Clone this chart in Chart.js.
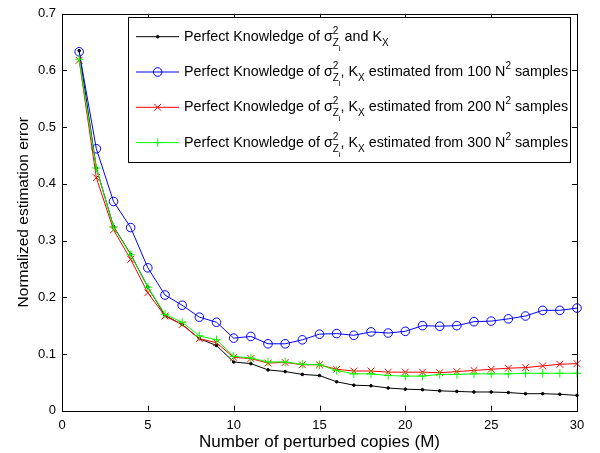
<!DOCTYPE html>
<html>
<head>
<meta charset="utf-8">
<script src="https://cdn.jsdelivr.net/npm/chart.js@4.4.1/dist/chart.umd.min.js"></script>
<style>
  html, body { margin: 0; padding: 0; background: #fff; }
  #wrap { width: 600px; height: 453px; }
</style>
</head>
<body>
<div id="wrap"><canvas id="errChart" width="600" height="453"></canvas></div>
<script>
// number of perturbed copies M
const copies = [1, 2, 3, 4, 5, 6, 7, 8, 9, 10, 11, 12, 13, 14, 15,
  16, 17, 18, 19, 20, 21, 22, 23, 24, 25, 26, 27, 28, 29, 30];

// normalized estimation error, one array per curve
const perfect = [0.635, 0.428, 0.325, 0.276, 0.218, 0.168, 0.152, 0.127, 0.115, 0.086,
  0.083, 0.072, 0.069, 0.064, 0.062, 0.051, 0.045, 0.044, 0.040, 0.038,
  0.037, 0.035, 0.034, 0.033, 0.033, 0.032, 0.030, 0.030, 0.029, 0.027];
const est100 = [0.633, 0.462, 0.369, 0.323, 0.252, 0.204, 0.186, 0.165, 0.156, 0.128,
  0.131, 0.118, 0.118, 0.125, 0.135, 0.136, 0.133, 0.139, 0.137, 0.140,
  0.150, 0.149, 0.150, 0.157, 0.158, 0.162, 0.167, 0.177, 0.177, 0.181];
const est200 = [0.618, 0.411, 0.319, 0.267, 0.208, 0.167, 0.152, 0.127, 0.120, 0.094,
  0.092, 0.084, 0.085, 0.081, 0.081, 0.073, 0.070, 0.070, 0.068, 0.068,
  0.068, 0.067, 0.069, 0.071, 0.073, 0.075, 0.076, 0.079, 0.082, 0.083];
const est300 = [0.620, 0.428, 0.324, 0.275, 0.218, 0.170, 0.156, 0.132, 0.125, 0.096,
  0.093, 0.086, 0.086, 0.082, 0.081, 0.071, 0.065, 0.065, 0.062, 0.061,
  0.061, 0.064, 0.064, 0.065, 0.065, 0.065, 0.066, 0.066, 0.066, 0.066];

const xTicks = [0, 5, 10, 15, 20, 25, 30];
const yTicks = [0, 0.1, 0.2, 0.3, 0.4, 0.5, 0.6, 0.7];

const xTitle = "Number of perturbed copies (M)";
const yTitle = "Normalized estimation error";
const sampleSizes = ["100", "200", "300"];

const FONT = "'Liberation Sans', Arial, Helvetica, sans-serif";

function pts(arr) {
  return copies.map((m, i) => ({ x: m, y: arr[i] }));
}

// legend rows as text runs (sup / sub / subsub), stack = do not advance x
function legendRuns(n) {
  const head = [
    { t: "Perfect Knowledge of σ" },
    { t: "2", k: "sup", stack: true },
    { t: "Z", k: "sub" },
    { t: "i", k: "subsub" },
  ];
  if (n == null) return head.concat([{ t: " and K" }, { t: "X", k: "sub" }]);
  return head.concat([
    { t: ", K" }, { t: "X", k: "sub" },
    { t: " estimated from " + n + " N" }, { t: "2", k: "sup" },
    { t: " samples" },
  ]);
}

const runStyle = {
  normal: { size: 14.3, dy: 0 },
  sup: { size: 10, dy: -7 },
  sub: { size: 10, dy: 5 },
  subsub: { size: 8, dy: 10 },
};

function drawRuns(ctx, runs, x, y) {
  ctx.textBaseline = "alphabetic";
  ctx.textAlign = "left";
  let cx = x;
  runs.forEach((r) => {
    const st = runStyle[r.k || "normal"];
    ctx.font = st.size + "px " + FONT;
    ctx.fillText(r.t, cx, y + st.dy);
    if (!r.stack) cx += ctx.measureText(r.t).width;
  });
}

// box, inward tick marks and legend, MATLAB style
const boxPlugin = {
  id: "matlabBox",
  afterDatasetsDraw(chart) {
    const { ctx, chartArea: a, scales } = chart;
    ctx.save();
    ctx.strokeStyle = "#000";
    ctx.lineWidth = 1;
    ctx.strokeRect(Math.round(a.left) + 0.5, Math.round(a.top) + 0.5,
      Math.round(a.right - a.left), Math.round(a.bottom - a.top));
    const tl = 5;
    ctx.beginPath();
    xTicks.forEach((v) => {
      const px = Math.round(scales.x.getPixelForValue(v)) + 0.5;
      ctx.moveTo(px, a.bottom); ctx.lineTo(px, a.bottom - tl);
      ctx.moveTo(px, a.top); ctx.lineTo(px, a.top + tl);
    });
    yTicks.forEach((v) => {
      const py = Math.round(scales.y.getPixelForValue(v)) + 0.5;
      ctx.moveTo(a.left, py); ctx.lineTo(a.left + tl, py);
      ctx.moveTo(a.right, py); ctx.lineTo(a.right - tl, py);
    });
    ctx.stroke();

    // legend
    const lx = 128.5, ly = 17.5, lw = 442, lh = 145;
    ctx.fillStyle = "#fff";
    ctx.fillRect(lx, ly, lw, lh);
    ctx.strokeRect(lx, ly, lw, lh);
    const rows = [legendRuns(null)].concat(sampleSizes.map((n) => legendRuns(n)));
    chart.data.datasets.forEach((ds, i) => {
      const ry = 36.7 + i * 35.3;
      ctx.strokeStyle = ds.borderColor;
      ctx.lineWidth = 1;
      ctx.beginPath();
      ctx.moveTo(136, ry); ctx.lineTo(179, ry);
      ctx.stroke();
      ctx.fillStyle = ds.pointBackgroundColor || "rgba(0,0,0,0)";
      Chart.helpers.drawPoint(ctx, {
        pointStyle: ds.pointStyle, radius: ds.pointRadius,
        rotation: 0, borderWidth: 1,
      }, 157.7, ry);
      ctx.fillStyle = "#000";
      drawRuns(ctx, rows[i], 184, ry + 4);
    });
    ctx.restore();
  },
};

function lineSet(label, arr, color, style, radius, fill, order) {
  return {
    label: label,
    data: pts(arr),
    borderColor: color,
    backgroundColor: color,
    pointBorderColor: color,
    pointBackgroundColor: fill,
    pointStyle: style,
    pointRadius: radius,
    pointBorderWidth: 1,
    borderWidth: 1,
    tension: 0,
    clip: false,
    order: order,
  };
}

new Chart(document.getElementById("errChart"), {
  type: "line",
  data: {
    datasets: [
      lineSet("perfect", perfect, "#000000", "circle", 1.3, "#000000", 4),
      lineSet("100", est100, "#0000ff", "circle", 4.3, "rgba(0,0,0,0)", 3),
      lineSet("200", est200, "#ff0000", "crossRot", 4.8, "#ff0000", 2),
      lineSet("300", est300, "#00ff00", "cross", 4.2, "#00ff00", 1),
    ],
  },
  options: {
    responsive: false,
    animation: false,
    layout: { padding: { top: 10.7, right: 23, left: 0, bottom: 0 } },
    plugins: { legend: { display: false }, tooltip: { enabled: false } },
    scales: {
      x: {
        type: "linear",
        min: 0,
        max: 30,
        afterBuildTicks: (s) => { s.ticks = xTicks.map((v) => ({ value: v })); },
        afterFit: (s) => { s.height = 42.3; },
        grid: { display: false, drawTicks: false },
        border: { display: false },
        ticks: { color: "#000", padding: 7, font: { family: FONT, size: 13 } },
        title: {
          display: true, text: xTitle, color: "#000",
          font: { family: FONT, size: 17, lineHeight: 1.2 },
          padding: { top: 0, bottom: 0 },
        },
      },
      y: {
        min: 0,
        max: 0.7,
        afterBuildTicks: (s) => { s.ticks = yTicks.map((v) => ({ value: v })); },
        afterFit: (s) => { s.width = 62; },
        grid: { display: false, drawTicks: false },
        border: { display: false },
        ticks: {
          color: "#000", padding: 6, font: { family: FONT, size: 13 },
          callback: (v) => String(v),
        },
        title: {
          display: true, text: yTitle, color: "#000",
          font: { family: FONT, size: 15.5, lineHeight: 1.2 },
          padding: { top: 14, bottom: 0 },
        },
      },
    },
  },
  plugins: [boxPlugin],
});
</script>
</body>
</html>
